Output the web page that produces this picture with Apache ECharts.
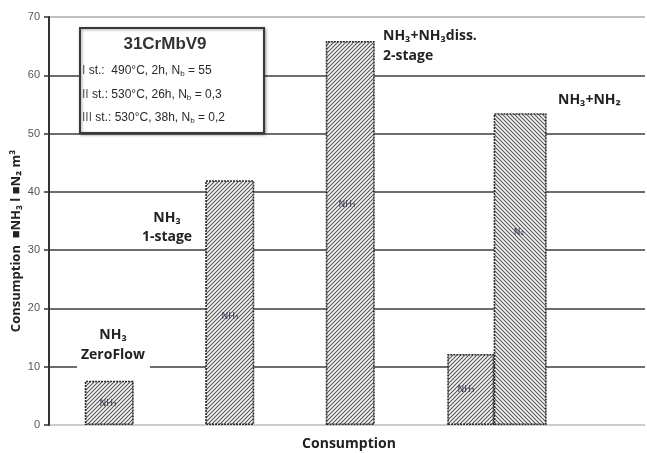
<!DOCTYPE html>
<html>
<head>
<meta charset="utf-8">
<style>html,body{margin:0;padding:0;background:#fff;}#c{width:647px;height:453px;}</style>
<script src="https://cdn.jsdelivr.net/npm/echarts@6/dist/echarts.min.js"></script>
</head>
<body>
<div id="c"></div>
<script>
// ---- data ----
const yTicks = [0, 10, 20, 30, 40, 50, 60, 70];
const categories = ['NH₃ ZeroFlow', 'NH₃ 1-stage', 'NH₃+NH₃diss. 2-stage', 'NH₃+NH₂'];
const slotPositions = [1, 2, 3];          // category slots for first three bars
const nh3Values = [7.6, 42.0, 65.9];      // NH3 consumption, first three processes
const nh3PartPosition = [4];              // NH3 part of NH3+NH2 process
const nh3PartValue = [12.2];
const n2PartPosition = [4.41];            // N2 part of NH3+NH2 process
const n2PartValue = [53.5];

function makePattern(dir) {
  const c = document.createElement('canvas');
  c.width = 4; c.height = 4;
  const g = c.getContext('2d');
  g.fillStyle = '#f7f7f7';
  g.fillRect(0, 0, 4, 4);
  g.strokeStyle = '#555';
  g.lineWidth = 1.1;
  g.beginPath();
  if (dir === '/') {
    g.moveTo(-1, 5); g.lineTo(5, -1);
    g.moveTo(-1, 1); g.lineTo(1, -1);
    g.moveTo(3, 5); g.lineTo(5, 3);
  } else {
    g.moveTo(-1, -1); g.lineTo(5, 5);
    g.moveTo(3, -1); g.lineTo(5, 1);
    g.moveTo(-1, 3); g.lineTo(1, 5);
  }
  g.stroke();
  return c;
}
const patA = { image: makePattern('/'), repeat: 'repeat' };
const patB = { image: makePattern('\\'), repeat: 'repeat' };
const barBorder = { borderColor: '#2b2b2b', borderWidth: 1.6, borderType: [2, 1] };

const chart = echarts.init(document.getElementById('c'), null, { renderer: 'canvas' });
const xMin = 0.5, xMax = 5.446;
const hiddenX = () => ({ type: 'value', min: xMin, max: xMax, show: false, gridIndex: 0 });

const boldFont = '"Open Sans", "Noto Sans", sans-serif';
const boxFont = '"Liberation Sans", Arial, sans-serif';

function boxLine(prefix, rest, nb, y) {
  return {
    type: 'text', x: 82, y: y, z: 20,
    style: {
      text: '{a|' + prefix + '}{t|' + rest + '}{t|N}{s|b}{t| = ' + nb + '}',
      textVerticalAlign: 'middle',
      rich: {
        a: { fontFamily: boxFont, fontSize: 12, fill: '#555' },
        t: { fontFamily: boxFont, fontSize: 12, fill: '#2a2a2a' },
        s: { fontFamily: boxFont, fontSize: 8, fill: '#2a2a2a', padding: [6, 0, 0, 0] }
      }
    }
  };
}
function ann(text, x, y, align) {
  return {
    type: 'text', x: x, y: y, z: 20,
    style: { text: text, fontFamily: boldFont, fontWeight: 'bold', fontSize: 14, fill: '#222',
      textAlign: align || 'left', textVerticalAlign: 'middle' }
  };
}
function tiny(text, x, y) {
  return {
    type: 'text', x: x, y: y, z: 20,
    style: { text: text, fontFamily: '"DejaVu Sans", sans-serif', fontSize: 9, fill: '#3a3a55', textAlign: 'center', textVerticalAlign: 'middle' }
  };
}

chart.setOption({
  animation: false,
  backgroundColor: '#fff',
  grid: { left: 49, right: 2, top: 17, bottom: 28, containLabel: false },
  xAxis: [hiddenX(), hiddenX(), hiddenX()],
  yAxis: {
    type: 'value', min: 0, max: 70, interval: 10,
    axisLine: { show: true, lineStyle: { color: '#333', width: 2 } },
    axisTick: { show: true, length: 5, lineStyle: { color: '#333', width: 1.5 } },
    axisLabel: { margin: 9, color: '#555', fontSize: 11, fontFamily: '"Liberation Sans", Arial, sans-serif' },
    splitLine: { show: true, lineStyle: { color: ['#bbb', '#3c3c3c', '#3c3c3c', '#3c3c3c', '#3c3c3c', '#3c3c3c', '#3c3c3c', '#aaa'], width: 1.6 } }
  },
  series: [
    {
      type: 'bar', xAxisIndex: 0, barWidth: 49,
      data: slotPositions.map((p, i) => [p, nh3Values[i]]),
      itemStyle: Object.assign({ color: patA }, barBorder)
    },
    {
      type: 'bar', xAxisIndex: 1, barWidth: 47,
      data: nh3PartPosition.map((p, i) => [p, nh3PartValue[i]]),
      itemStyle: Object.assign({ color: patA }, barBorder)
    },
    {
      type: 'bar', xAxisIndex: 2, barWidth: 53,
      data: n2PartPosition.map((p, i) => [p, n2PartValue[i]]),
      itemStyle: Object.assign({ color: patB }, barBorder)
    }
  ],
  graphic: [
    // annotation box
    { type: 'rect', shape: { x: 80, y: 28, width: 184, height: 105 }, z: 15,
      style: { fill: '#fff', stroke: '#3a3a3a', lineWidth: 2, shadowBlur: 3, shadowColor: 'rgba(0,0,0,0.35)', shadowOffsetX: 1, shadowOffsetY: 1 } },
    { type: 'text', x: 165, y: 44, z: 20,
      style: { text: '31CrMbV9', fontFamily: boxFont, fontWeight: 'bold', fontSize: 17, fill: '#333', textAlign: 'center', textVerticalAlign: 'middle' } },
    boxLine('I', ' st.:  490°C, 2h, ', '55', 71),
    boxLine('II', ' st.: 530°C, 26h, ', '0,3', 95),
    boxLine('III', ' st.: 530°C, 38h, ', '0,2', 118),
    // white background behind ZeroFlow label
    { type: 'rect', shape: { x: 77, y: 322, width: 73, height: 50 }, z: 12, style: { fill: '#fff' } },
    ann('NH₃', 113, 335, 'center'),
    ann('ZeroFlow', 113, 355, 'center'),
    ann('NH₃', 167, 218, 'center'),
    ann('1-stage', 167, 237, 'center'),
    ann('NH₃+NH₃diss.', 383, 36),
    ann('2-stage', 383, 56),
    ann('NH₃+NH₂', 558, 100),
    // tiny in-bar labels
    tiny('NH₃', 108, 404),
    tiny('NH₃', 230, 317),
    tiny('NH₃', 347, 205),
    tiny('NH₃', 466, 390),
    tiny('N₂', 519, 233),
    // axis titles
    { type: 'text', x: 349, y: 444, z: 20,
      style: { text: 'Consumption', fontFamily: boldFont, fontWeight: 'bold', fontSize: 14, fill: '#222', textAlign: 'center', textVerticalAlign: 'middle' } },
    { type: 'text', x: 16, y: 241, rotation: Math.PI / 2, z: 20,
      style: { text: 'Consumption  ■NH₃ l ■N₂ m³', fontFamily: boldFont, fontWeight: 'bold', fontSize: 13, fill: '#222', textAlign: 'center', textVerticalAlign: 'middle' } }
  ]
});
</script>
</body>
</html>
